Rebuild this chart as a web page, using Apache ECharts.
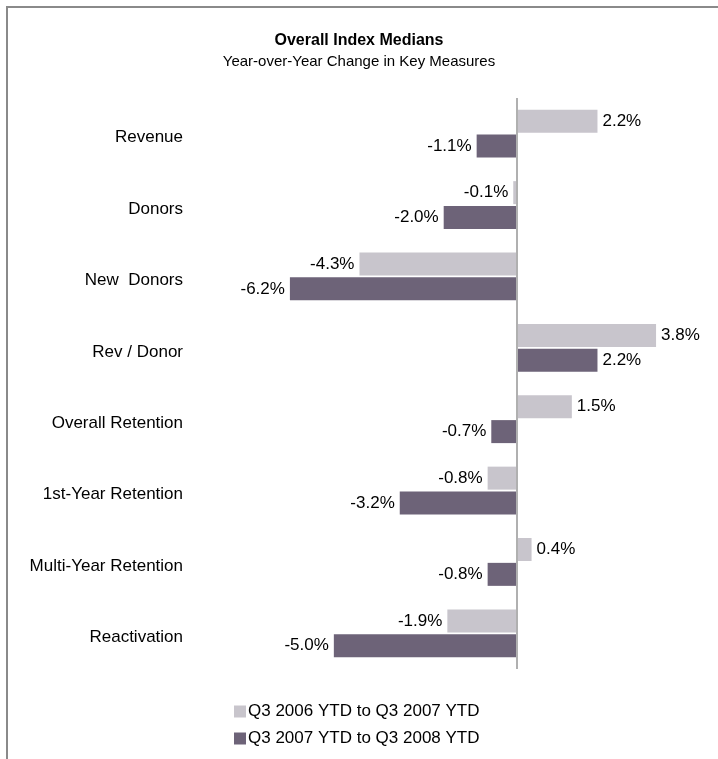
<!DOCTYPE html>
<html>
<head>
<meta charset="utf-8">
<script src="https://cdn.jsdelivr.net/npm/echarts@6/dist/echarts.min.js"></script>
<style>html,body{margin:0;padding:0;background:#fff;}#c{width:718px;height:759px;}</style>
</head>
<body>
<div id="c"></div>
<script>
var categories = ['Revenue', 'Donors', 'New  Donors', 'Rev / Donor', 'Overall Retention', '1st-Year Retention', 'Multi-Year Retention', 'Reactivation'];
var seriesNames = ['Q3 2006 YTD to Q3 2007 YTD', 'Q3 2007 YTD to Q3 2008 YTD'];
var values2007 = [2.2, -0.1, -4.3, 3.8, 1.5, -0.8, 0.4, -1.9];
var values2008 = [-1.1, -2.0, -6.2, 2.2, -0.7, -3.2, -0.8, -5.0];

var FONT = 'Liberation Sans, Arial, sans-serif';
function items(arr) {
  return arr.map(function (v) {
    return { value: v, label: { position: v < 0 ? 'left' : 'right' } };
  });
}
var labelStyle = {
  show: true, distance: 5, color: '#000', fontFamily: FONT, fontSize: 17,
  formatter: function (p) { return p.value.toFixed(1) + '%'; }
};
var chart = echarts.init(document.getElementById('c'), null, { renderer: 'canvas' });
chart.setOption({
  backgroundColor: '#fff',
  animation: false,
  title: {
    text: 'Overall Index Medians',
    subtext: 'Year-over-Year Change in Key Measures',
    left: 'center', top: 28, itemGap: 5,
    textStyle: { fontFamily: FONT, fontSize: 16, fontWeight: 'bold', color: '#000' },
    subtextStyle: { fontFamily: FONT, fontSize: 15, color: '#000' }
  },
  graphic: [{
    type: 'rect', shape: { x: 7, y: 7, width: 730, height: 780 },
    style: { fill: 'none', stroke: '#8a8a8a', lineWidth: 2 }, silent: true
  }],
  legend: {
    orient: 'vertical', left: 229, top: 698, itemWidth: 12, itemHeight: 12, itemGap: 10,
    icon: 'rect', data: seriesNames,
    textStyle: { fontFamily: FONT, fontSize: 17, lineHeight: 17, color: '#000', padding: [0, 0, 0, -3] }
  },
  grid: { left: 224, right: 18, top: 98, bottom: 90, containLabel: false },
  xAxis: {
    type: 'value', min: -8, max: 5, show: false
  },
  yAxis: {
    type: 'category', data: categories, inverse: true,
    axisLine: { show: false }, axisTick: { show: false },
    axisLabel: { margin: 41, color: '#000', fontFamily: FONT, fontSize: 17, verticalAlign: 'top', lineHeight: 8 }
  },
  series: [{
    name: seriesNames[0], type: 'bar', data: items(values2007),
    barWidth: 23, barGap: '8%', itemStyle: { color: '#C8C5CC' }, label: labelStyle,
    markLine: {
      silent: true, symbol: 'none', label: { show: false },
      lineStyle: { color: '#b0b0b0', width: 2, type: 'solid' },
      data: [{ xAxis: 0 }]
    }
  }, {
    name: seriesNames[1], type: 'bar', data: items(values2008),
    barWidth: 23, itemStyle: { color: '#6D6378' }, label: labelStyle
  }]
});
</script>
</body>
</html>
